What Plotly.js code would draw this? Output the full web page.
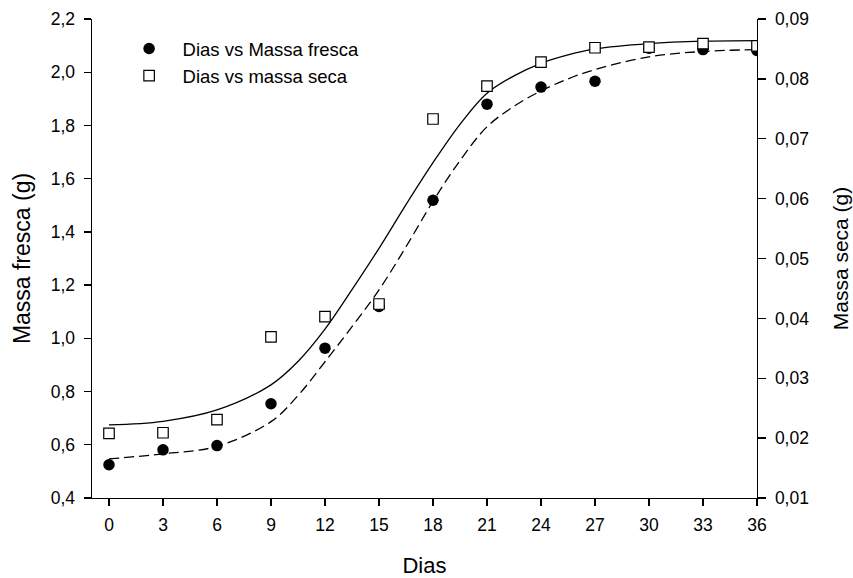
<!DOCTYPE html>
<html>
<head>
<meta charset="utf-8">
<script src="https://cdn.plot.ly/plotly-3.0.1.min.js"></script>
<style>html,body{margin:0;padding:0;background:#fff;}#chart{width:853px;height:578px;}</style>
</head>
<body>
<div id="chart"></div>
<script>
// Observed data (days)
const dias = [0, 3, 6, 9, 12, 15, 18, 21, 24, 27, 30, 33, 36];
const massaFresca = [0.525, 0.581, 0.597, 0.754, 0.963, 1.12, 1.519, 1.88, 1.944, 1.966, 2.09, 2.085, 2.082];
const massaSeca = [0.0208, 0.0209, 0.0231, 0.0369, 0.0403, 0.0424, 0.0733, 0.0788, 0.0828, 0.0852, 0.0853, 0.0859, 0.0855];

// Fitted curves
const curvaDias = [0, 3, 6, 9, 10.5, 12, 13.5, 15, 16.5, 18, 19.5, 21, 22.5, 24, 25.5, 27, 30, 33, 36];
const curvaFresca = [0.547, 0.566, 0.594, 0.687, 0.785, 0.912, 1.044, 1.182, 1.344, 1.515, 1.668, 1.795, 1.872, 1.930, 1.975, 2.010, 2.058, 2.078, 2.085];
const curvaSeca = [0.0222, 0.0228, 0.0247, 0.0289, 0.0328, 0.0382, 0.0448, 0.0517, 0.0590, 0.0660, 0.0724, 0.0776, 0.0805, 0.0826, 0.0840, 0.0850, 0.0859, 0.0863, 0.0864];

const xTicks = [0, 3, 6, 9, 12, 15, 18, 21, 24, 27, 30, 33, 36];
const leftTicks = [0.4, 0.6, 0.8, 1.0, 1.2, 1.4, 1.6, 1.8, 2.0, 2.2];
const rightTicks = [0.01, 0.02, 0.03, 0.04, 0.05, 0.06, 0.07, 0.08, 0.09];

const FONT = 'Liberation Sans, Arial, sans-serif';

const traces = [
  {
    x: curvaDias, y: curvaFresca, mode: 'lines', yaxis: 'y', showlegend: false, hoverinfo: 'skip',
    line: {color: '#000', width: 1.3, dash: '10px,5px', shape: 'spline', smoothing: 1}
  },
  {
    x: dias, y: massaFresca, mode: 'markers', yaxis: 'y', name: 'Dias vs Massa fresca',
    marker: {symbol: 'circle', size: 11.5, color: '#000', line: {width: 0}}
  },
  {
    x: curvaDias, y: curvaSeca, mode: 'lines', yaxis: 'y2', showlegend: false, hoverinfo: 'skip',
    line: {color: '#000', width: 1.3, shape: 'spline', smoothing: 1}
  },
  {
    x: dias, y: massaSeca, mode: 'markers', yaxis: 'y2', name: 'Dias vs massa seca',
    marker: {symbol: 'square', size: 10.5, color: '#fff', line: {width: 1.2, color: '#000'}}
  }
];

const layout = {
  width: 853, height: 578,
  margin: {l: 92, r: 96, t: 19, b: 80, pad: 0},
  paper_bgcolor: '#fff', plot_bgcolor: '#fff',
  font: {family: FONT, color: '#000', size: 17.5},
  separators: ', ',
  showlegend: true,
  legend: {
    x: 0.0355, y: 0.977, xanchor: 'left', yanchor: 'top',
    bgcolor: 'rgba(0,0,0,0)', borderwidth: 0,
    font: {family: FONT, size: 18.5, color: '#000'},
    itemwidth: 57, traceorder: 'normal'
  },
  xaxis: {
    range: [-0.944, 36], tickvals: xTicks, ticktext: xTicks.map(String),
    showline: true, linecolor: '#000', linewidth: 1.4, mirror: false,
    ticks: 'outside', ticklen: 7, tickwidth: 1.4, tickcolor: '#000',
    ticklabelstandoff: 4,
    showgrid: false, zeroline: false,
    tickfont: {family: FONT, size: 17.5, color: '#000'},
    title: {text: 'Dias', font: {family: FONT, size: 22, color: '#000'}, standoff: 25}
  },
  yaxis: {
    range: [0.4, 2.2], tickvals: leftTicks, tickformat: '.1f',
    showline: true, linecolor: '#000', linewidth: 1.4, mirror: false,
    ticks: 'outside', ticklen: 7, tickwidth: 1.4, tickcolor: '#000',
    ticklabelstandoff: 5,
    showgrid: false, zeroline: false,
    tickfont: {family: FONT, size: 17.5, color: '#000'},
    title: {text: 'Massa fresca (g)', font: {family: FONT, size: 23, color: '#000'}, standoff: 13}
  },
  yaxis2: {
    range: [0.01, 0.09], tickvals: rightTicks, tickformat: '.2f',
    overlaying: 'y', side: 'right', anchor: 'x',
    showline: true, linecolor: '#000', linewidth: 1.4, mirror: false,
    ticks: 'outside', ticklen: 8, tickwidth: 1.4, tickcolor: '#000',
    ticklabelstandoff: 5,
    showgrid: false, zeroline: false,
    tickfont: {family: FONT, size: 17.5, color: '#000'},
    title: {text: 'Massa seca (g)', font: {family: FONT, size: 21, color: '#000'}, standoff: 25}
  }
};

Plotly.newPlot('chart', traces, layout, {displayModeBar: false, staticPlot: true});
</script>
</body>
</html>
